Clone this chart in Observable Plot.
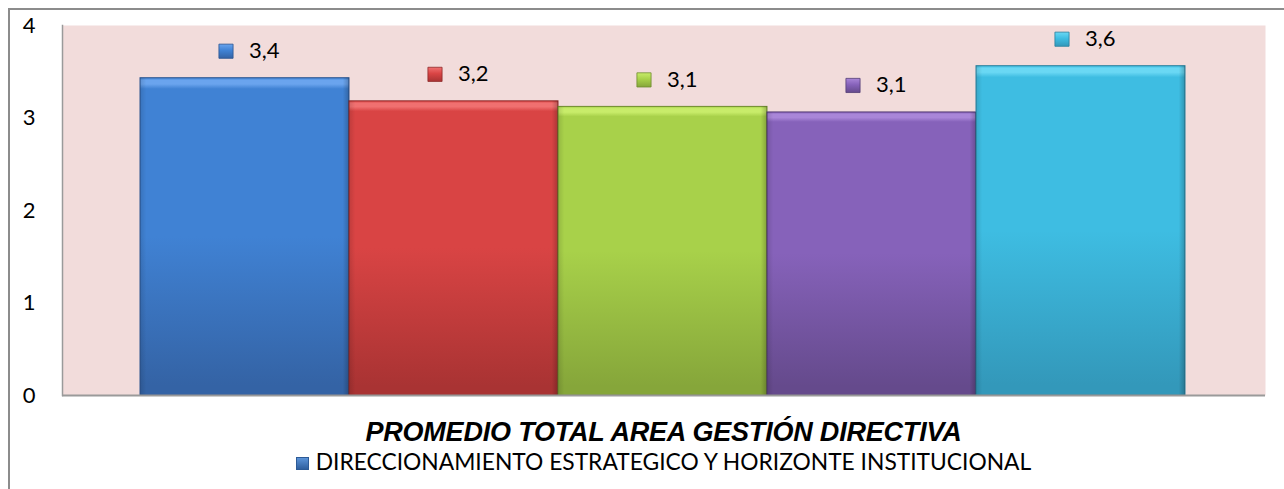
<!DOCTYPE html>
<html><head><meta charset="utf-8">
<script src="https://cdn.jsdelivr.net/npm/d3@7"></script>
<script src="https://cdn.jsdelivr.net/npm/@observablehq/plot@0.6"></script>
<style>
body{margin:0;background:#fff;width:1284px;height:489px;overflow:hidden;position:relative;font-family:Lato,"Open Sans",sans-serif}
#frame{position:absolute;left:8px;top:8px;width:1300px;height:500px;border-left:2px solid #8c8c8c;border-top:2px solid #8c8c8c;box-sizing:border-box}
#chart{position:absolute;left:0;top:0}
#title{position:absolute;left:62px;width:1203px;top:418.5px;height:26px;text-align:center;font:italic bold 27px "Liberation Sans",Arial,sans-serif;letter-spacing:-0.2px;color:#000;line-height:26px}
#legend{position:absolute;left:62px;width:1203px;top:450px;height:22px;text-align:center;font:22.8px Lato,"Open Sans",sans-serif;color:#000;line-height:22px}
#legend .sw{display:inline-block;width:13px;height:13px;margin-right:7px;vertical-align:0px;background:linear-gradient(#5b93d8,#2f5f9e);border:1px solid #2c5a96;box-sizing:border-box}
</style>
</head><body>
<div id="frame"></div>
<div id="chart"></div>
<div id="title">PROMEDIO TOTAL AREA GESTIÓN DIRECTIVA</div>
<div id="legend"><span class="sw"></span>DIRECCIONAMIENTO ESTRATEGICO Y HORIZONTE INSTITUCIONAL</div>
<script>
const series = ["DIRECCIONAMIENTO ESTRATEGICO Y HORIZONTE INSTITUCIONAL", "Serie 2", "Serie 3", "Serie 4", "Serie 5"];
const values = [3.43, 3.18, 3.12, 3.06, 3.56];
const labels = ["3,4", "3,2", "3,1", "3,1", "3,6"];
const yTicks = [0, 1, 2, 3, 4];

const palette = [
  {top:"#6aa4ee", mid:"#4082d4", bot:"#3463a5", edge:"#2c5590"},
  {top:"#f07070", mid:"#d94444", bot:"#a93333", edge:"#8f2a2a"},
  {top:"#c8ec6a", mid:"#a8d14a", bot:"#86a63a", edge:"#6f8c2e"},
  {top:"#a986d8", mid:"#8662ba", bot:"#654a8c", edge:"#543d75"},
  {top:"#6ad8f4", mid:"#3ebde2", bot:"#3398ba", edge:"#2a7f9c"}
];
const gradIds = series.map((d, i) => `url(#g${i})`);
const mkIds = series.map((d, i) => `url(#m${i})`);

const data = series.map((s, i) => ({series: s, value: values[i], label: labels[i]}));

const plot = Plot.plot({
  width: 1284,
  height: 410,
  marginTop: 25,
  marginBottom: 15,
  marginLeft: 62,
  marginRight: 19,
  style: {background: "transparent", fontFamily: "Lato, 'Open Sans', sans-serif"},
  x: {domain: series, padding: 0, insetLeft: 77, insetRight: 79, axis: null},
  y: {domain: [0, 4], ticks: yTicks, label: null},
  color: {domain: series, range: gradIds},
  marks: [
    Plot.frame({fill: "#f2dcdb", stroke: "none"}),
    Plot.barY(data, {x: "series", y: "value", fill: "series", stroke: (d, i) => palette[i].edge, strokeWidth: 1}),
    Plot.barY(data, {x: "series", y: "value", fill: "url(#side)"}),
    Plot.frame({anchor: "left", stroke: "#9a9a9a", strokeWidth: 1.5}),
    Plot.ruleY([0], {stroke: "#9a9a9a", strokeWidth: 2}),
    Plot.axisY({ticks: yTicks, tickSize: 0, tickPadding: 27, fontSize: 22, tickFormat: d => String(d), fill: "#000", label: null}),
    Plot.dot(data, {x: "series", y: "value", symbol: "square", r: 8, dx: -19, dy: -27, fill: (d, i) => mkIds[i], stroke: (d, i) => palette[i].edge, strokeWidth: 0.8}),
    Plot.text(data, {x: "series", y: "value", text: "label", dx: 4, dy: -27, textAnchor: "start", fontSize: 22, fill: "#000"})
  ]
});

const defs = palette.map((p, i) => `
<linearGradient id="g${i}" x1="0" y1="0" x2="0" y2="1">
  <stop offset="0" stop-color="${p.mid}"/>
  <stop offset="0.008" stop-color="${p.top}"/>
  <stop offset="0.02" stop-color="${p.top}"/>
  <stop offset="0.035" stop-color="${p.mid}"/>
  <stop offset="0.5" stop-color="${p.mid}"/>
  <stop offset="0.97" stop-color="${p.bot}"/>
  <stop offset="1" stop-color="${p.bot}"/>
</linearGradient>
<linearGradient id="m${i}" x1="0" y1="0" x2="0" y2="1">
  <stop offset="0" stop-color="${p.top}"/>
  <stop offset="0.45" stop-color="${p.mid}"/>
  <stop offset="1" stop-color="${p.bot}"/>
</linearGradient>`).join("") + `
<linearGradient id="side" x1="0" y1="0" x2="1" y2="0">
  <stop offset="0" stop-color="#000" stop-opacity="0.12"/>
  <stop offset="0.03" stop-color="#000" stop-opacity="0"/>
  <stop offset="0.97" stop-color="#000" stop-opacity="0"/>
  <stop offset="1" stop-color="#000" stop-opacity="0.22"/>
</linearGradient>`;
plot.insertAdjacentHTML("afterbegin", `<defs>${defs}</defs>`);
document.getElementById("chart").appendChild(plot);
</script>
</body></html>
